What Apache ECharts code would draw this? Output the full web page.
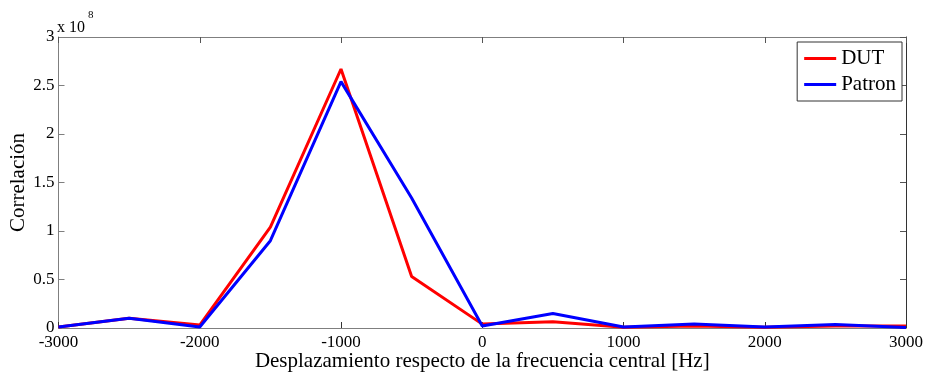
<!DOCTYPE html>
<html>
<head>
<meta charset="utf-8">
<script src="https://cdn.jsdelivr.net/npm/echarts@6/dist/echarts.min.js"></script>
<style>html,body{margin:0;padding:0;background:#fff}#c{width:925px;height:372px}</style>
</head>
<body>
<div id="c"></div>
<script>
const freqs = [-3000,-2500,-2000,-1500,-1000,-500,0,500,1000,1500,2000,2500,3000];
const dut    = [0.01,0.10,0.03,1.04,2.67,0.53,0.04,0.065,0.008,0.02,0.008,0.02,0.02];
const patron = [0.01,0.10,0.01,0.90,2.54,1.34,0.02,0.15,0.01,0.04,0.01,0.035,0.005];
const xTicks = [-3000,-2000,-1000,0,1000,2000,3000];
const yTicks = [0,0.5,1,1.5,2,2.5,3];
const seriesNames = ['DUT','Patron'];
const xTitle = 'Desplazamiento respecto de la frecuencia central [Hz]';
const yTitle = 'Correlación';
const expText = 'x 10';
const expSup = '8';

const font = '"Liberation Serif", "DejaVu Serif", serif';
const chart = echarts.init(document.getElementById('c'));
const pair = (xs, ys) => xs.map((x, i) => [x, ys[i]]);
const axisGray = '#7f7f7f';

chart.setOption({
  animation: false,
  backgroundColor: '#fff',
  grid: { left: 58.5, right: 19, top: 37, bottom: 44, containLabel: false, outerBoundsMode: 'none' },
  xAxis: [{
    type: 'value', min: -3000, max: 3000, interval: 1000, position: 'bottom',
    axisLine: { onZero: false, lineStyle: { color: axisGray, width: 1 } },
    axisTick: { inside: true, length: 6, lineStyle: { color: '#333' } },
    axisLabel: { color: '#000', fontFamily: font, fontSize: 17, margin: 6,
      formatter: v => xTicks.includes(v) ? String(v) : '' },
    splitLine: { show: false },
    name: xTitle, nameLocation: 'middle', nameGap: 23, nameMoveOverlap: false,
    nameTextStyle: { color: '#000', fontFamily: font, fontSize: 21 }
  }, {
    type: 'value', min: -3000, max: 3000, interval: 1000, position: 'top',
    axisLine: { show: true, onZero: false, lineStyle: { color: axisGray } },
    axisTick: { inside: true, length: 6, lineStyle: { color: '#555' } },
    axisLabel: { show: false }, splitLine: { show: false }
  }],
  yAxis: [{
    type: 'value', min: 0, max: 3, interval: 0.5, position: 'left',
    axisLine: { show: true, onZero: false, lineStyle: { color: axisGray } },
    axisTick: { show: true, inside: true, length: 6, lineStyle: { color: axisGray } },
    axisLabel: { color: '#000', fontFamily: font, fontSize: 17, margin: 4,
      formatter: v => yTicks.includes(v) ? String(v) : '' },
    splitLine: { show: false },
    name: yTitle, nameLocation: 'middle', nameGap: 30, nameRotate: 90, nameMoveOverlap: false,
    nameTextStyle: { color: '#000', fontFamily: font, fontSize: 21 }
  }, {
    type: 'value', min: 0, max: 3, interval: 0.5, position: 'right',
    axisLine: { show: true, onZero: false, lineStyle: { color: '#333' } },
    axisTick: { show: true, inside: true, length: 6, lineStyle: { color: '#555' } },
    axisLabel: { show: false }, splitLine: { show: false }
  }],
  legend: {
    orient: 'vertical', right: 23, top: 42, data: seriesNames,
    backgroundColor: '#fff', borderColor: '#333', borderWidth: 1,
    padding: [6, 6, 6, 7], itemGap: 5, itemWidth: 32, itemHeight: 3,
    icon: 'rect',
    textStyle: { fontFamily: font, fontSize: 21, color: '#000' }
  },
  graphic: [
    { type: 'text', left: 57, top: 20, style: { text: expText, font: '16px ' + font, fill: '#000' } },
    { type: 'text', left: 88, top: 10, style: { text: expSup, font: '11px ' + font, fill: '#000' } }
  ],
  series: [
    { name: seriesNames[0], type: 'line', data: pair(freqs, dut), showSymbol: false, symbol: 'none',
      lineStyle: { color: '#ff0000', width: 3 }, itemStyle: { color: '#ff0000' }, z: 2 },
    { name: seriesNames[1], type: 'line', data: pair(freqs, patron), showSymbol: false, symbol: 'none',
      lineStyle: { color: '#0000ff', width: 3 }, itemStyle: { color: '#0000ff' }, z: 3 }
  ]
});
</script>
</body>
</html>
